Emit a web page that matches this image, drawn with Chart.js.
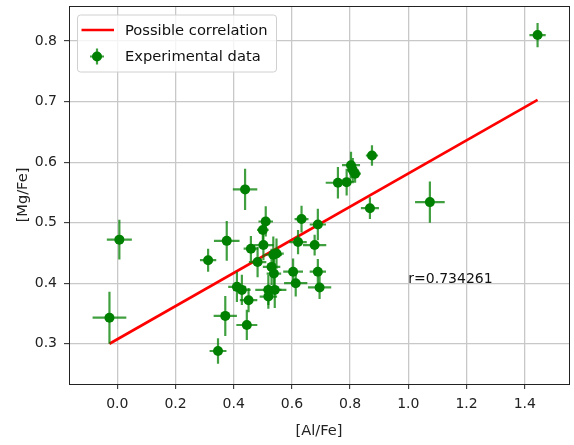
<!DOCTYPE html>
<html>
<head>
<meta charset="utf-8">
<script src="https://cdn.jsdelivr.net/npm/chart.js@4.4.1/dist/chart.umd.min.js"></script>
<style>
  html, body { margin: 0; padding: 0; background: #fff; overflow: hidden; }
  #wrap { width: 574px; height: 445px; }
  canvas { display: block; }
</style>
</head>
<body>
<div id="wrap"><canvas id="chart" width="574" height="445"></canvas></div>
<script>
// measured values
let alFe  = [-0.027, 0.007, 0.312, 0.346, 0.371, 0.376, 0.411, 0.428, 0.445, 0.439,
             0.451, 0.459, 0.482, 0.502, 0.500, 0.510, 0.519, 0.519, 0.541, 0.536,
             0.547, 0.530, 0.538, 0.604, 0.613, 0.621, 0.633, 0.678, 0.689, 0.689,
             0.695, 0.758, 0.788, 0.803, 0.809, 0.817, 0.868, 0.875, 1.074, 1.444];
let mgFe  = [0.343, 0.472, 0.438, 0.288, 0.346, 0.470, 0.394, 0.389, 0.331, 0.555,
             0.372, 0.457, 0.435, 0.463, 0.488, 0.502, 0.389, 0.378, 0.389, 0.447,
             0.449, 0.427, 0.416, 0.419, 0.400, 0.468, 0.506, 0.463, 0.497, 0.419,
             0.393, 0.566, 0.567, 0.595, 0.587, 0.581, 0.524, 0.611, 0.534, 0.810];
let alErr = [0.058, 0.043, 0.028, 0.029, 0.040, 0.044, 0.030, 0.030, 0.036, 0.042,
             0.030, 0.025, 0.030, 0.035, 0.020, 0.025, 0.045, 0.030, 0.040, 0.030,
             0.025, 0.030, 0.025, 0.034, 0.040, 0.030, 0.024, 0.040, 0.028, 0.028,
             0.040, 0.042, 0.025, 0.031, 0.020, 0.020, 0.031, 0.021, 0.051, 0.028];
let mgErr = [0.043, 0.033, 0.019, 0.021, 0.033, 0.033, 0.025, 0.025, 0.025, 0.034,
             0.020, 0.021, 0.025, 0.025, 0.020, 0.025, 0.025, 0.020, 0.030, 0.030,
             0.025, 0.030, 0.025, 0.022, 0.022, 0.020, 0.022, 0.017, 0.026, 0.021,
             0.019, 0.026, 0.022, 0.022, 0.020, 0.015, 0.018, 0.017, 0.034, 0.020];

let fitX = [-0.027, 1.444];
let fitY = [0.300, 0.703];

let xTicks = [0.0, 0.2, 0.4, 0.6, 0.8, 1.0, 1.2, 1.4];
let yTicks = [0.3, 0.4, 0.5, 0.6, 0.7, 0.8];

let rLabel = "r=0.734261";
let rPos = { x: 1.0, y: 0.40 };

const FONT = "DejaVu Sans";
const GREEN = "#008000";
const ERR_GREEN = "rgba(0,128,0,0.75)";
const SPINE = "#222";

/* ERROR BARS (under the markers) */
const errorBars = {
    id: "errorBars",
    beforeDatasetDraw(chart, args) {
        if (args.index !== 0) return;
        const { ctx, scales: { x, y } } = chart;
        ctx.save();
        ctx.strokeStyle = ERR_GREEN;
        ctx.lineWidth = 2.2;
        alFe.forEach((v, i) => {
            const px = x.getPixelForValue(v), py = y.getPixelForValue(mgFe[i]);
            ctx.beginPath();
            ctx.moveTo(x.getPixelForValue(v - alErr[i]), py);
            ctx.lineTo(x.getPixelForValue(v + alErr[i]), py);
            ctx.moveTo(px, y.getPixelForValue(mgFe[i] - mgErr[i]));
            ctx.lineTo(px, y.getPixelForValue(mgFe[i] + mgErr[i]));
            ctx.stroke();
        });
        ctx.restore();
    }
};

/* TEXT + LEGEND */
const decorations = {
    id: "decorations",
    afterDraw(chart) {
        const ctx = chart.ctx;
        const a = chart.chartArea;
        const x = chart.scales.x, y = chart.scales.y;
        ctx.save();

        // r label
        ctx.fillStyle = "#111";
        ctx.font = "14px '" + FONT + "'";
        ctx.textBaseline = "alphabetic";
        ctx.textAlign = "left";
        ctx.fillText(rLabel, x.getPixelForValue(rPos.x), y.getPixelForValue(rPos.y));

        // legend box
        const lx = a.left + 8, ly = a.top + 8.5, lw = 199, lh = 57;
        ctx.fillStyle = "rgba(255,255,255,0.8)";
        ctx.strokeStyle = "#d0d0d0";
        ctx.lineWidth = 1;
        ctx.beginPath();
        ctx.roundRect(lx + 0.5, ly + 0.5, lw, lh, 3);
        ctx.fill();
        ctx.stroke();

        // line entry
        const row1 = ly + 15.5, row2 = ly + 42;
        ctx.strokeStyle = "red";
        ctx.lineWidth = 2.6;
        ctx.beginPath();
        ctx.moveTo(lx + 4.5, row1);
        ctx.lineTo(lx + 37, row1);
        ctx.stroke();

        // errorbar entry
        const mx = lx + 20;
        ctx.strokeStyle = ERR_GREEN;
        ctx.lineWidth = 2.2;
        ctx.beginPath();
        ctx.moveTo(mx - 7, row2); ctx.lineTo(mx + 7, row2);
        ctx.moveTo(mx, row2 - 8); ctx.lineTo(mx, row2 + 8);
        ctx.stroke();
        ctx.fillStyle = GREEN;
        ctx.beginPath();
        ctx.arc(mx, row2, 5, 0, Math.PI * 2);
        ctx.fill();

        ctx.fillStyle = "#111";
        ctx.font = "14.7px '" + FONT + "'";
        ctx.textBaseline = "middle";
        ctx.fillText("Possible correlation", lx + 48, row1 + 1);
        ctx.fillText("Experimental data", lx + 48, row2 + 1);

        ctx.restore();
    }
};

// kill the label-overflow padding so the plot box stays where we put it
function noPad(s) {
    s.paddingLeft = 0; s.paddingRight = 0; s.paddingTop = 0; s.paddingBottom = 0;
}

const gridOpts = {
    color: "#c8c8c8",
    lineWidth: 1.3,
    drawTicks: true,
    tickLength: 5,
    tickColor: SPINE,
    tickWidth: 1
};

// top and right spines: empty axes that only draw their border line
const spineAxis = (pos, axis) => ({
    type: "linear",
    position: pos,
    axis: axis,
    display: true,
    grid: { display: false, drawTicks: false },
    ticks: { display: false },
    border: { display: true, color: SPINE, width: 1 },
    afterFit: s => {
        if (axis === "x") s.height = 0; else s.width = 0;
        noPad(s);
    }
});

new Chart(document.getElementById("chart"), {
    type: "scatter",
    data: {
        datasets: [
            {
                label: "Experimental data",
                data: alFe.map((v, i) => ({ x: v, y: mgFe[i] })),
                backgroundColor: GREEN,
                borderColor: GREEN,
                pointRadius: 5,
                borderWidth: 0,
                order: 1
            },
            {
                label: "Possible correlation",
                type: "line",
                data: fitX.map((v, i) => ({ x: v, y: fitY[i] })),
                borderColor: "red",
                borderWidth: 2.6,
                pointRadius: 0,
                fill: false,
                order: 2
            }
        ]
    },
    options: {
        responsive: false,
        animation: false,
        layout: { padding: { top: 6, right: 1, left: 0, bottom: 0 } },
        plugins: { legend: { display: false }, tooltip: { enabled: false } },
        scales: {
            x: {
                type: "linear",
                min: -0.166,
                max: 1.552,
                afterBuildTicks: s => { s.ticks = xTicks.map(v => ({ value: v })); },
                afterFit: s => { s.height = 61; noPad(s); },
                grid: gridOpts,
                border: { display: true, color: SPINE, width: 1 },
                ticks: {
                    padding: 7,
                    color: "#222",
                    font: { family: FONT, size: 14 },
                    maxRotation: 0,
                    callback: v => v.toFixed(1)
                },
                title: {
                    display: true,
                    text: "[Al/Fe]",
                    color: "#222",
                    font: { family: FONT, size: 14.6 },
                    padding: { top: 4, bottom: 5 }
                }
            },
            y: {
                type: "linear",
                min: 0.2335,
                max: 0.858,
                afterBuildTicks: s => { s.ticks = yTicks.map(v => ({ value: v })); },
                afterFit: s => { s.width = 69; noPad(s); },
                grid: gridOpts,
                border: { display: true, color: SPINE, width: 1 },
                ticks: {
                    padding: 7,
                    color: "#222",
                    font: { family: FONT, size: 14 },
                    callback: v => v.toFixed(1)
                },
                title: {
                    display: true,
                    text: "[Mg/Fe]",
                    color: "#222",
                    font: { family: FONT, size: 14.6 },
                    padding: { top: 14, bottom: 4 }
                }
            },
            xTop: spineAxis("top", "x"),
            yRight: spineAxis("right", "y")
        }
    },
    plugins: [errorBars, decorations]
});
</script>
</body>
</html>
